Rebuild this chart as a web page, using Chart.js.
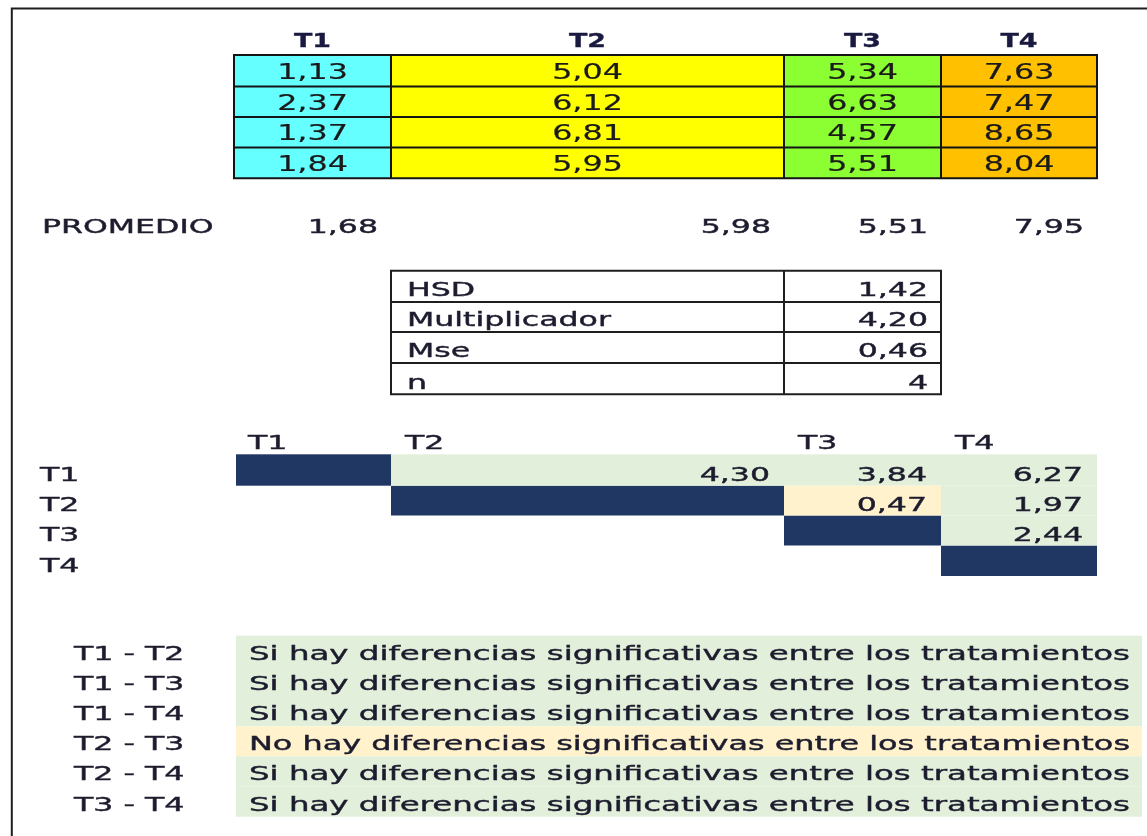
<!DOCTYPE html>
<html>
<head>
<meta charset="utf-8">
<script src="https://cdn.jsdelivr.net/npm/chart.js@4.4.0/dist/chart.umd.min.js"></script>
<style>
  html, body { margin: 0; padding: 0; background: #fff; }
  canvas { display: block; }
</style>
</head>
<body>
<canvas id="sheet" width="1147" height="836"></canvas>
<script>
// values
const treatments = ['T1', 'T2', 'T3', 'T4'];
const t1Values = [1.13, 2.37, 1.37, 1.84];
const t2Values = [5.04, 6.12, 6.81, 5.95];
const t3Values = [5.34, 6.63, 4.57, 5.51];
const t4Values = [7.63, 7.47, 8.65, 8.04];
const promedio = [1.68, 5.98, 5.51, 7.95];
const hsdLabels = ['HSD', 'Multiplicador', 'Mse', 'n'];
const hsdValues = [1.42, 4.20, 0.46, 4];
const pairs = ['T1 - T2', 'T1 - T3', 'T1 - T4', 'T2 - T3', 'T2 - T4', 'T3 - T4'];
const pairDiffs = [4.30, 3.84, 6.27, 0.47, 1.97, 2.44];
const verdicts = [
    'Si hay diferencias significativas entre los tratamientos',
    'Si hay diferencias significativas entre los tratamientos',
    'Si hay diferencias significativas entre los tratamientos',
    'No hay diferencias significativas entre los tratamientos',
    'Si hay diferencias significativas entre los tratamientos',
    'Si hay diferencias significativas entre los tratamientos'
];

// sheet grid (column and row edges, in sheet units)
const colEdges = [11, 234, 391, 784, 941, 1097];
const rowEdges = [24.5, 55, 86.5, 117, 147.5, 178.3, 209, 240, 270.7, 302, 332, 363, 394.3,
    424.3, 454.3, 485.7, 515.5, 545.5, 576, 606, 635.7, 665.9, 696, 726.3, 756.2, 786.3, 816.7];

const treatmentFill = ['#66FFFF', '#FFFF00', '#8CFF33', '#FFC000'];
const sigFill = '#E2EFDA';
const noSigFill = '#FFF2CC';
const diagFill = '#203764';
const textColor = '#1c1c2e';
const FONT = '"DejaVu Sans", Verdana, sans-serif';
const SX = 1.62;

const fmt = v => Number.isInteger(v) ? String(v) : v.toFixed(2).replace('.', ',');

const sheetPlugin = {
    id: 'sheet',
    beforeDraw(chart) {
        const { ctx, scales: { x, y } } = chart;
        const px = v => x.getPixelForValue(v);
        const py = r => y.getPixelForValue(rowEdges[r]);

        const fillCell = (x0, x1, r0, r1, color) => {
            ctx.fillStyle = color;
            ctx.fillRect(px(x0), py(r0), px(x1) - px(x0), py(r1) - py(r0));
        };
        const line = (x0, y0, x1, y1, w, color) => {
            ctx.strokeStyle = color;
            ctx.lineWidth = w;
            ctx.beginPath();
            ctx.moveTo(x0, y0);
            ctx.lineTo(x1, y1);
            ctx.stroke();
        };
        const text = (str, xv, row, off, align, opts = {}) => {
            ctx.save();
            ctx.font = (opts.bold ? 'bold ' : '') + (opts.size || 19.5) + 'px ' + FONT;
            ctx.fillStyle = opts.color || textColor;
            ctx.strokeStyle = opts.color || textColor;
            ctx.textAlign = align;
            ctx.textBaseline = 'alphabetic';
            let sx = opts.sx || SX;
            if (opts.fitTo) sx = opts.fitTo / ctx.measureText(str).width;
            ctx.translate(px(xv), py(row + 1) - off);
            ctx.scale(sx, 1);
            ctx.fillText(str, 0, 0);
            // slightly heavier strokes, like the ClearType rendering of the sheet
            ctx.lineWidth = opts.stroke ?? 0.4;
            if (ctx.lineWidth > 0) ctx.strokeText(str, 0, 0);
            ctx.restore();
        };

        ctx.save();
        ctx.fillStyle = '#fff';
        ctx.fillRect(0, 0, chart.width, chart.height);

        // outer frame
        ctx.strokeStyle = '#1e1e1e';
        ctx.lineWidth = 2;
        ctx.strokeRect(px(11.8), y.getPixelForValue(8.5), chart.width + 10, chart.height + 10);

        // top table
        const topCols = [t1Values, t2Values, t3Values, t4Values];
        topCols.forEach((vals, c) => {
            const c0 = colEdges[c + 1], c1 = colEdges[c + 2];
            text(treatments[c], (c0 + c1) / 2, 0, 8, 'center', { bold: true, sx: 1.38, color: '#1a1a40', stroke: 0.3 });
            vals.forEach((v, r) => {
                fillCell(c0, c1, r + 1, r + 2, treatmentFill[c]);
                text(fmt(v), (c0 + c1) / 2, r + 1, 7.5, 'center', { color: '#1a1a1a', size: 20.5, sx: 1.55, stroke: 0.2 });
            });
        });
        for (let r = 1; r <= 5; r++) line(px(colEdges[1]) - 1, py(r), px(colEdges[5]) + 1, py(r), 2, '#141414');
        for (let c = 1; c <= 5; c++) line(px(colEdges[c]), py(1), px(colEdges[c]), py(5), 2, '#141414');

        // PROMEDIO row
        text('PROMEDIO', 42, 6, 6.7, 'left');
        promedio.forEach((v, c) => text(fmt(v), colEdges[c + 2] - 13, 6, 6.7, 'right'));

        // HSD table
        hsdLabels.forEach((lab, i) => {
            text(lab, colEdges[2] + 16, 8 + i, 5.6, 'left');
            text(fmt(hsdValues[i]), colEdges[4] - 13, 8 + i, 5.6, 'right');
        });
        for (let r = 8; r <= 12; r++) line(px(colEdges[2]) - 1, py(r), px(colEdges[4]) + 1, py(r), 2, '#1e1e1e');
        [2, 3, 4].forEach(c => line(px(colEdges[c]), py(8), px(colEdges[c]), py(12), 2, '#1e1e1e'));

        // difference matrix
        const hsd = hsdValues[0];
        treatments.forEach((t, c) => text(t, colEdges[c + 1] + 14, 13, 5, 'left'));
        treatments.forEach((t, r) => {
            text(t, 40, 14 + r, 4.3, 'left');
            fillCell(colEdges[r + 1] + (r === 0 ? 2 : 0), colEdges[r + 2], 14 + r, 15 + r, diagFill);
        });
        pairs.forEach((p, k) => {
            const [a, b] = p.split(' - ').map(s => treatments.indexOf(s));
            const fill = pairDiffs[k] > hsd ? sigFill : noSigFill;
            fillCell(colEdges[b + 1], colEdges[b + 2], 14 + a, 15 + a, fill);
            text(fmt(pairDiffs[k]), colEdges[b + 2] - 14, 14 + a, 4.3, 'right');
        });

        // verdicts
        pairs.forEach((p, k) => {
            text(p, 74, 20 + k, 6.2, 'left');
            fillCell(236, 1142, 20 + k, 21 + k, verdicts[k].startsWith('No') ? noSigFill : sigFill);
            text(verdicts[k], 249, 20 + k, 6, 'left', { fitTo: 881 });
        });
        ctx.restore();
    }
};

new Chart(document.getElementById('sheet'), {
    type: 'scatter',
    data: { datasets: [] },
    options: {
        responsive: false,
        animation: false,
        devicePixelRatio: 1,
        layout: { padding: 0 },
        plugins: { legend: { display: false }, tooltip: { enabled: false } },
        scales: {
            x: { type: 'linear', min: 0, max: 1147, display: false },
            y: { type: 'linear', min: 0, max: 836, reverse: true, display: false }
        }
    },
    plugins: [sheetPlugin]
});
</script>
</body>
</html>
